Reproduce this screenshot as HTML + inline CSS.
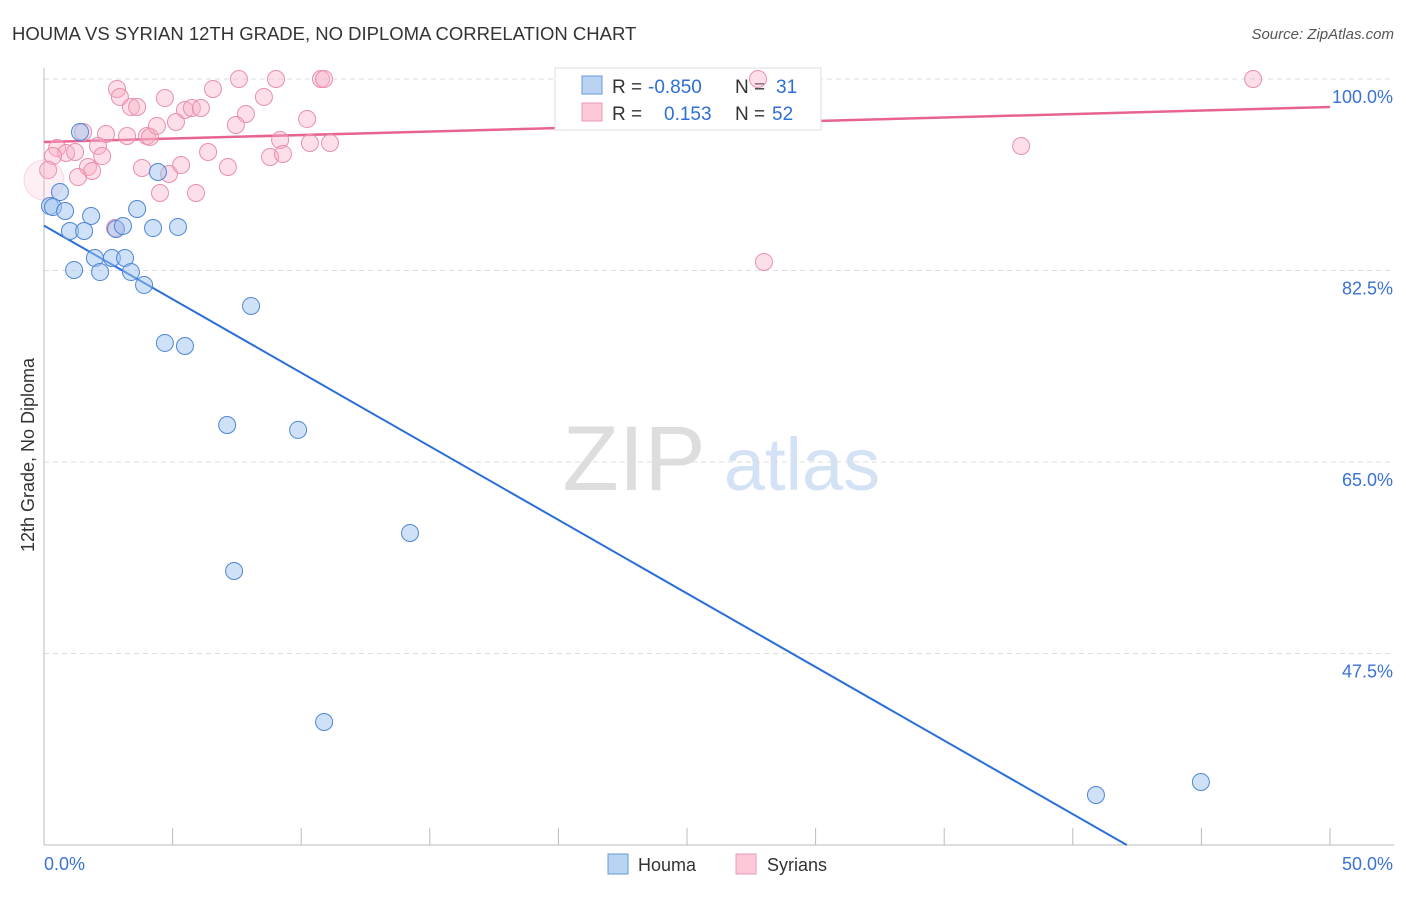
<!DOCTYPE html>
<html><head><meta charset="utf-8"><style>
body{margin:0;background:#fff;font-family:"Liberation Sans",sans-serif;}
svg text{font-family:"Liberation Sans",sans-serif;}
</style></head><body>
<svg id="c" width="1406" height="892" xmlns="http://www.w3.org/2000/svg">
<text x="12" y="40" font-size="18.5" fill="#333">HOUMA VS SYRIAN 12TH GRADE, NO DIPLOMA CORRELATION CHART</text>
<text x="1394" y="39" font-size="15" fill="#555" text-anchor="end" font-style="italic">Source: ZipAtlas.com</text>
<text transform="translate(34,455) rotate(-90)" font-size="18" fill="#333" text-anchor="middle">12th Grade, No Diploma</text>
<g><text x="634" y="490" font-size="92" fill="#ddd" text-anchor="middle" font-family="Liberation Serif">ZIP</text><text x="802" y="490" font-size="74" fill="#d3e2f5" text-anchor="middle">atlas</text></g>
<g id="grid"></g><g id="axes"></g><g id="lines"></g>
<g>
<rect x="555" y="68" width="266" height="62" fill="#fff" stroke="#ddd"/>
<rect x="582" y="76" width="20" height="18" fill="#b9d3f3" stroke="#6a9ad8"/>
<rect x="582" y="103" width="20" height="18" fill="#fbc9d7" stroke="#eb9ab2"/>
<text x="612" y="93" font-size="19" fill="#333">R = </text><text x="648" y="93" font-size="19" fill="#2d6fd6">-0.850</text>
<text x="735" y="93" font-size="19" fill="#333">N = </text><text x="776" y="93" font-size="19" fill="#2d6fd6">31</text>
<text x="612" y="120" font-size="19" fill="#333">R = </text><text x="664" y="120" font-size="19" fill="#2d6fd6">0.153</text>
<text x="735" y="120" font-size="19" fill="#333">N = </text><text x="772" y="120" font-size="19" fill="#2d6fd6">52</text>
</g>
<g id="pts"></g>
<g>
<rect x="608" y="854" width="20" height="20" fill="#b9d3f3" stroke="#6a9ad8"/><text x="638" y="871" font-size="18" fill="#333">Houma</text>
<rect x="736" y="854" width="20" height="20" fill="#fbc9d7" stroke="#eb9ab2"/><text x="767" y="871" font-size="18" fill="#333">Syrians</text>
</g>
</svg>
<script>
const xTicks=[0,50];
const yTicks=[100,82.5,65,47.5];
const houmaX=[1.40,0.62,0.23,0.35,0.82,1.83,1.01,1.56,2.80,3.07,4.24,5.21,3.62,4.43,1.17,1.98,2.18,2.64,3.15,3.38,3.89,8.05,4.70,5.48,7.12,9.88,14.23,7.39,10.89,40.90,44.98];
const houmaY=[95.16,89.67,88.39,88.30,87.94,87.48,86.11,86.11,86.29,86.57,86.38,86.48,88.12,91.50,82.55,83.64,82.36,83.64,83.64,82.36,81.18,79.26,75.88,75.60,68.38,67.93,58.51,55.04,41.24,34.57,35.76];
const syrX=[2.84,2.95,4.70,7.58,9.02,10.77,10.89,6.57,8.55,5.48,5.75,6.10,7.85,10.23,3.38,3.62,1.52,2.41,3.23,4.00,4.12,4.39,5.13,7.46,9.18,10.34,11.12,0.51,2.10,0.86,1.21,2.26,0.35,1.71,1.87,1.32,0.16,3.81,4.86,5.33,6.38,7.15,8.79,9.29,4.51,5.91,2.76,27.76,47.01,37.99,27.99,0];
const syrY=[99.09,98.36,98.26,100,100,100,100,99.09,98.36,97.17,97.35,97.35,96.80,96.34,97.44,97.44,95.16,94.97,94.79,94.79,94.70,95.71,96.07,95.80,94.43,94.15,94.15,93.69,93.88,93.24,93.33,92.96,92.96,91.96,91.59,91.04,91.68,91.87,91.32,92.14,93.33,91.96,92.87,93.15,89.58,89.58,86.38,100,100,93.88,83.28,90.77];
const houmaTrend=[[0,86.6],[42.1,30]];
const syrTrend=[[0,94.24],[50,97.44]];
const NS='http://www.w3.org/2000/svg';
const sx=v=>44+v/50*1286, sy=v=>79+(100-v)/17.5*191.5;
function mk(p,t,a){const e=document.createElementNS(NS,t);for(const k in a)e.setAttribute(k,a[k]);document.getElementById(p).appendChild(e);return e;}
yTicks.forEach(t=>{
 const l=mk('grid','line',{x1:44,x2:1394,y1:sy(t),y2:sy(t),stroke:'#ddd','stroke-dasharray':'5,4'});
 
 
 const tx=mk('grid','text',{x:1393,y:sy(t)+24,'font-size':18,fill:'#3a72d6','text-anchor':'end'});tx.textContent=t.toFixed(1)+'%';
 
 
});
mk('axes','line',{x1:44,x2:44,y1:68,y2:845,stroke:'#bbb'});
mk('axes','line',{x1:44,x2:1394,y1:845,y2:845,stroke:'#bbb'});
for(let i=0;i<=10;i++){const x=sx(i*5);const t=mk('axes','line',{x1:x,x2:x,y1:828,y2:845,stroke:'#bbb'});
 
 }
xTicks.forEach((t,i)=>{const tx=mk('axes','text',{x:i?1393:44,y:870,'font-size':18,fill:'#3a72d6','text-anchor':i?'end':'start'});tx.textContent=t.toFixed(1)+'%';
 
 });
function pts(X,Y,fill,stroke,name){X.forEach((x,i)=>{const big=(x===0&&name==='syrians-point');const c=mk('pts','circle',{cx:sx(x),cy:sy(Y[i]),r:big?20:8.5,fill:big?'rgba(248,176,198,0.2)':fill,stroke:big?'rgba(233,143,171,0.3)':stroke,'stroke-width':1});
 
 });}
pts(syrX,syrY,'rgba(248,176,198,0.4)','#e98fab','syrians-point');
pts(houmaX,houmaY,'rgba(160,196,240,0.5)','#4f86d6','houma-point');
const l1=mk('lines','line',{x1:sx(houmaTrend[0][0]),y1:sy(houmaTrend[0][1]),x2:sx(houmaTrend[1][0]),y2:sy(houmaTrend[1][1]),stroke:'#2a6fd8','stroke-width':2});


const l2=mk('lines','line',{x1:sx(syrTrend[0][0]),y1:sy(syrTrend[0][1]),x2:sx(syrTrend[1][0]),y2:sy(syrTrend[1][1]),stroke:'#e8648e','stroke-width':2.5});


</script>
</body></html>
